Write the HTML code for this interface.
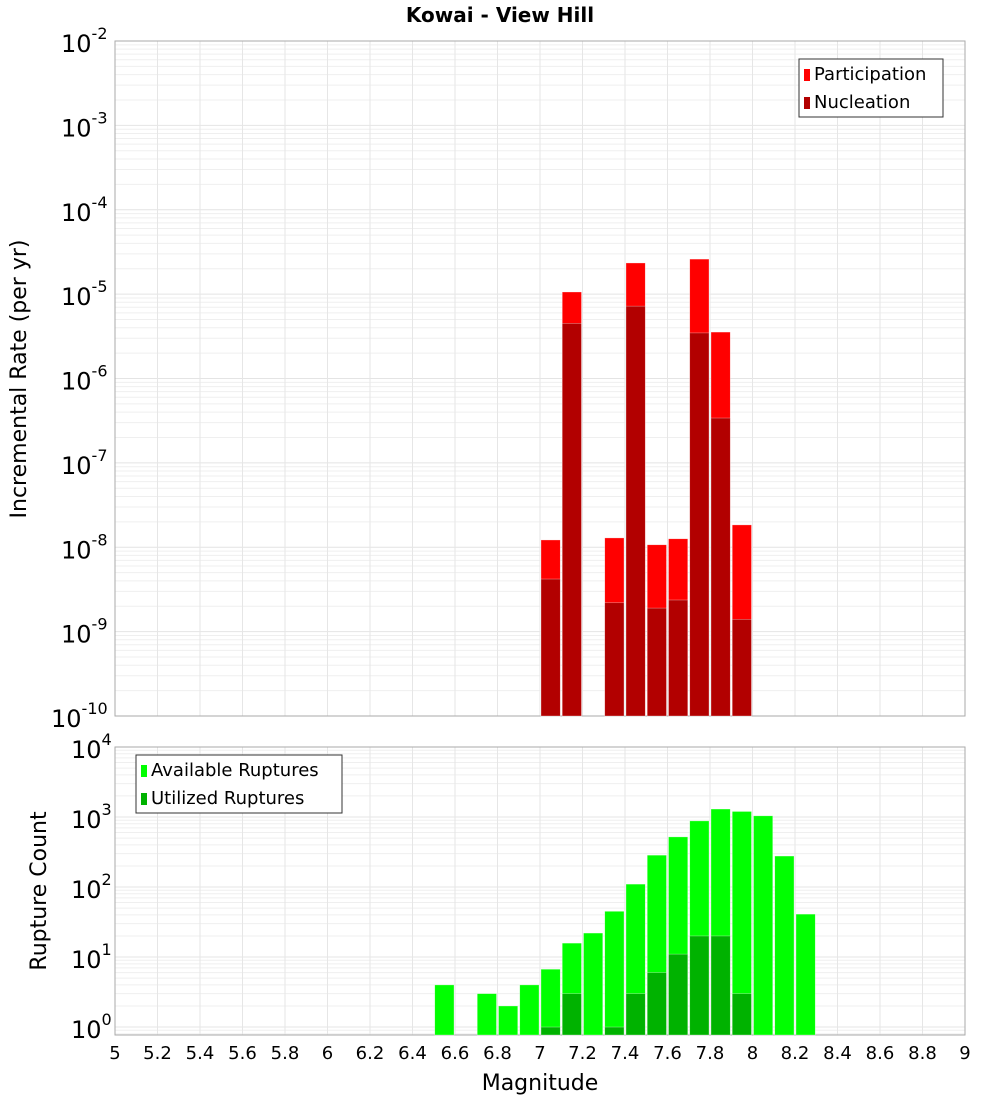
<!DOCTYPE html>
<html><head><meta charset="utf-8"><style>
body{margin:0;background:#fff;font-family:"Liberation Sans","DejaVu Sans",sans-serif}
svg text{font-family:"DejaVu Sans","Liberation Sans",sans-serif}
</style></head><body>
<svg id="c" width="1000" height="1100" xmlns="http://www.w3.org/2000/svg">
<text x="500" y="22" text-anchor="middle" font-size="20" font-weight="bold">Kowai - View Hill</text>
<text transform="translate(26,379) rotate(-90)" text-anchor="middle" font-size="22">Incremental Rate (per yr)</text>
<text transform="translate(46,891) rotate(-90)" text-anchor="middle" font-size="22">Rupture Count</text>
<text x="540" y="1090" text-anchor="middle" font-size="22">Magnitude</text>
</svg>
<script>
const rateMags=[7.05,7.15,7.35,7.45,7.55,7.65,7.75,7.85,7.95];
const participation=[1.22e-8,1.06e-5,1.29e-8,2.34e-5,1.07e-8,1.26e-8,2.6e-5,3.55e-6,1.84e-8];
const nucleation=[4.2e-9,4.5e-6,2.2e-9,7.2e-6,1.9e-9,2.37e-9,3.47e-6,3.4e-7,1.4e-9];
const availMags=[6.55,6.75,6.85,6.95,7.05,7.15,7.25,7.35,7.45,7.55,7.65,7.75,7.85,7.95,8.05,8.15,8.25];
const available=[4,3,2,4,6.7,15.8,22,45,110,285,520,880,1300,1200,1040,277,41];
const utilMags=[7.05,7.15,7.35,7.45,7.55,7.65,7.75,7.85,7.95];
const utilized=[1,3,1,3,6,11,20,20,3];
const xTicks=["5","5.2","5.4","5.6","5.8","6","6.2","6.4","6.6","6.8","7","7.2","7.4","7.6","7.8","8","8.2","8.4","8.6","8.8","9"];
const topExps=[-2,-3,-4,-5,-6,-7,-8,-9,-10];
const botExps=[4,3,2,1,0];

const NS="http://www.w3.org/2000/svg";
const svg=document.getElementById('c');
function mk(t,a,p){const e=document.createElementNS(NS,t);for(const k in a)e.setAttribute(k,a[k]);(p||svg).appendChild(e);return e;}
const X0=115,X1=965;
const x=m=>X0+(m-5)/4*(X1-X0);
const P1={top:41,bot:716,lo:-10,hi:-2};
const P2={top:747,bot:1035,lo:Math.log10(0.77),hi:4};
function yf(P,v){const l=Math.log10(v);return P.bot-(l-P.lo)/(P.hi-P.lo)*(P.bot-P.top);}

function panel(P,name){
  const g=mk('g',{});
  
  
  for(let e=Math.floor(P.lo);e<P.hi;e++){for(let k=1;k<10;k++){const v=k*Math.pow(10,e);const l=Math.log10(v);if(l<P.lo||l>P.hi)continue;const yy=yf(P,v);
    mk('line',{x1:X0,x2:X1,y1:yy,y2:yy,stroke:k==1?'#e4e4e4':'#efefef','stroke-width':1},g);}}
  xTicks.forEach(t=>{const xx=x(+t);mk('line',{x1:xx,x2:xx,y1:P.top,y2:P.bot,stroke:'#e6e6e6'},g);});
  const r=mk('rect',{x:X0,y:P.top,width:X1-X0,height:P.bot-P.top,fill:'none',stroke:'#aaa'});
  
  
}
panel(P1,'top');panel(P2,'bottom');

function bars(P,mags,vals,color,name){
  mags.forEach((m,i)=>{const yy=yf(P,vals[i]);
    const r=mk('rect',{x:x(m-0.05)+1,y:yy,width:x(m+0.05)-x(m-0.05)-2,height:P.bot-yy,fill:color,stroke:'#fff','stroke-opacity':0.5,'stroke-width':0.6});
    
    });
}
bars(P1,rateMags,participation,'#ff0000','participation');
bars(P1,rateMags,nucleation,'#b20000','nucleation');
bars(P2,availMags,available,'#00ff00','available-ruptures');
bars(P2,utilMags,utilized,'#00b200','utilized-ruptures');

function ylabels(P,exps,name){
  exps.forEach(e=>{const yy=yf(P,Math.pow(10,e));
    const t=mk('text',{x:108,y:yy+11,'text-anchor':'end','font-size':24});
    
    
    const a=mk('tspan',{},t);a.textContent='10';
    const b=mk('tspan',{dy:-13,'font-size':16},t);b.textContent=String(e);
    const w=String(e).length*10;t.setAttribute('x',106-w+ (e<0?0:0));t.setAttribute('text-anchor','start');
    t.setAttribute('x',X0-44-(String(e).length-1)*10);
  });
}
ylabels(P1,topExps,'top-y');ylabels(P2,botExps,'bottom-y');
xTicks.forEach(tk=>{const t=mk('text',{x:x(+tk),y:1059,'text-anchor':'middle','font-size':18});t.textContent=tk;
  
  });

function legend(bx,by,w,items,name){
  const g=mk('g',{});
  
  
  mk('rect',{x:bx,y:by,width:w,height:58,fill:'#fff',stroke:'#333'},g);
  items.forEach((it,i)=>{mk('rect',{x:bx+5,y:by+10+i*28,width:6,height:12,fill:it[1]},g);
    const t=mk('text',{x:bx+15,y:by+21+i*28,'font-size':18},g);t.textContent=it[0];});
}
legend(799,59,144,[['Participation','#ff0000'],['Nucleation','#b20000']],'top-legend');
legend(136,755,206,[['Available Ruptures','#00ff00'],['Utilized Ruptures','#00b200']],'bottom-legend');
</script>
</body></html>
